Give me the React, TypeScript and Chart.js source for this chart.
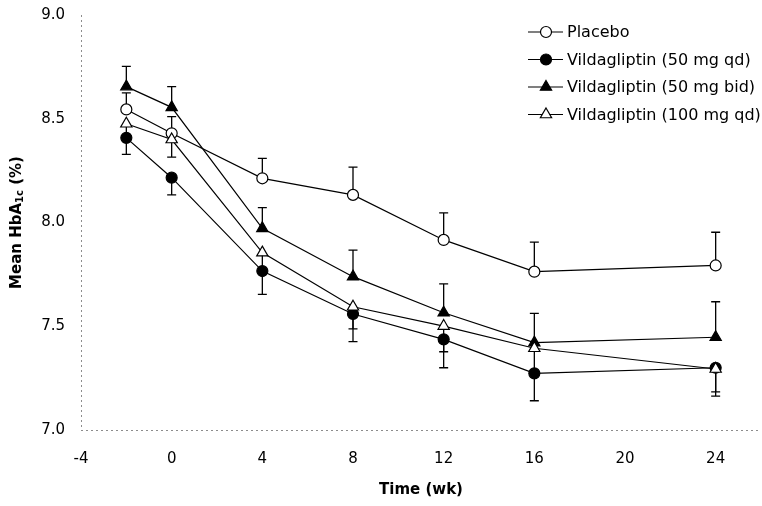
import React, { useEffect, useRef } from 'react';
import { Chart, registerables } from 'chart.js';

Chart.register(...registerables);

// ---- data ----
const weeks = [-2, 0, 4, 8, 12, 16, 24];
const xTickValues = [-4, 0, 4, 8, 12, 16, 20, 24];
const yTickValues = [7.0, 7.5, 8.0, 8.5, 9.0];

const seriesNames = [
  'Placebo',
  'Vildagliptin (50 mg qd)',
  'Vildagliptin (50 mg bid)',
  'Vildagliptin (100 mg qd)',
];

const placebo = [8.545, 8.43, 8.213, 8.133, 7.916, 7.763, 7.793];
const placeboErr = [0.08, 0.08, 0.096, 0.134, 0.13, 0.142, 0.16];

const vilda50qd = [8.408, 8.216, 7.766, 7.559, 7.437, 7.273, 7.3];
const vilda50qdErr = [0.08, 0.083, 0.112, 0.133, 0.137, 0.132, 0.137];

const vilda50bid = [8.655, 8.555, 7.972, 7.739, 7.565, 7.421, 7.447];
const vilda50bidErr = [0.097, 0.1, 0.1, 0.128, 0.139, 0.141, 0.171];

const vilda100qd = [8.476, 8.4, 7.855, 7.594, 7.501, 7.394, 7.294];
const vilda100qdErr = [0.08, 0.085, 0.1, 0.107, 0.124, 0.13, 0.11];

// error bar direction: +1 upward, -1 downward
const errDirections = [1, -1, 1, -1];

const seriesValues = [placebo, vilda50qd, vilda50bid, vilda100qd];
const seriesErrors = [placeboErr, vilda50qdErr, vilda50bidErr, vilda100qdErr];

// ---- styles ----
const FONT = "'DejaVu Sans', 'Liberation Sans', Arial, sans-serif";
const markerStyles = [
  { shape: 'circle', fill: '#ffffff', radius: 5.5 },
  { shape: 'circle', fill: '#000000', radius: 5.5 },
  { shape: 'triangle', fill: '#000000', radius: 6.5 },
  { shape: 'triangle', fill: '#ffffff', radius: 6.5 },
];
const drawOrder = [2, 4, 3, 1];

function drawMarker(ctx: CanvasRenderingContext2D, shape: string, fill: string, r: number, x: number, y: number) {
  ctx.save();
  ctx.beginPath();
  if (shape === 'circle') {
    ctx.arc(x, y, r, 0, Math.PI * 2);
  } else {
    let rad = 0;
    const third = (Math.PI * 2) / 3;
    ctx.moveTo(x + Math.sin(rad) * r, y - Math.cos(rad) * r);
    rad += third;
    ctx.lineTo(x + Math.sin(rad) * r, y - Math.cos(rad) * r);
    rad += third;
    ctx.lineTo(x + Math.sin(rad) * r, y - Math.cos(rad) * r);
    ctx.closePath();
  }
  ctx.fillStyle = fill;
  ctx.fill();
  ctx.lineWidth = 1.2;
  ctx.strokeStyle = '#000';
  ctx.stroke();
  ctx.restore();
}

const axesAndErrorBarPlugin = {
  id: 'errorBars',
  beforeDatasetsDraw(chart: any) {
    const ctx: CanvasRenderingContext2D = chart.ctx;
    const xs = chart.scales.x;
    const ys = chart.scales.y;
    const area = chart.chartArea;

    // faint dotted axis lines
    ctx.save();
    ctx.strokeStyle = '#8c8c8c';
    ctx.lineWidth = 1;
    ctx.setLineDash([2, 3]);
    ctx.beginPath();
    ctx.moveTo(area.left + 0.5, area.top);
    ctx.lineTo(area.left + 0.5, area.bottom);
    ctx.moveTo(area.left, area.bottom + 0.5);
    ctx.lineTo(area.right, area.bottom + 0.5);
    ctx.stroke();
    ctx.restore();

    ctx.save();
    ctx.strokeStyle = '#000';
    ctx.lineWidth = 1.3;
    seriesValues.forEach((vals, i) => {
      const errs = seriesErrors[i];
      const dir = errDirections[i];
      vals.forEach((v, j) => {
        const x = xs.getPixelForValue(weeks[j]);
        const y0 = ys.getPixelForValue(v);
        const y1 = ys.getPixelForValue(v + dir * errs[j]);
        ctx.beginPath();
        ctx.moveTo(x, y0);
        ctx.lineTo(x, y1);
        ctx.moveTo(x - 4.5, y1);
        ctx.lineTo(x + 4.5, y1);
        ctx.stroke();
      });
    });
    ctx.restore();
  },
};

const annotationPlugin = {
  id: 'customText',
  afterDraw(chart: any) {
    const ctx: CanvasRenderingContext2D = chart.ctx;
    const area = chart.chartArea;
    ctx.save();
    ctx.fillStyle = '#000';

    // x title
    ctx.font = `bold 15px ${FONT}`;
    ctx.textAlign = 'center';
    ctx.textBaseline = 'alphabetic';
    ctx.fillText('Time (wk)', (area.left + area.right) / 2, 494);

    // y title with subscript
    const parts = [
      { t: 'Mean HbA', size: 15, dy: 0 },
      { t: '1c', size: 10, dy: 2 },
      { t: ' (%)', size: 15, dy: 0 },
    ];
    let total = 0;
    parts.forEach((p) => {
      ctx.font = `bold ${p.size}px ${FONT}`;
      total += ctx.measureText(p.t).width;
    });
    ctx.translate(21, (area.top + area.bottom) / 2);
    ctx.rotate(-Math.PI / 2);
    ctx.textAlign = 'left';
    let pos = -total / 2;
    parts.forEach((p) => {
      ctx.font = `bold ${p.size}px ${FONT}`;
      ctx.fillText(p.t, pos, p.dy);
      pos += ctx.measureText(p.t).width;
    });
    ctx.restore();

    // legend
    ctx.save();
    const rowY = [32, 59.5, 87, 114.5];
    seriesNames.forEach((name, i) => {
      const y = rowY[i];
      ctx.strokeStyle = '#000';
      ctx.lineWidth = 1.2;
      ctx.beginPath();
      ctx.moveTo(528, y);
      ctx.lineTo(563, y);
      ctx.stroke();
      const m = markerStyles[i];
      drawMarker(ctx, m.shape, m.fill, m.radius, 546, y);
      ctx.fillStyle = '#000';
      ctx.font = `16px ${FONT}`;
      ctx.textAlign = 'left';
      ctx.textBaseline = 'middle';
      ctx.fillText(name, 567, y + 1);
    });
    ctx.restore();
  },
};

export default function App() {
  const canvasRef = useRef<HTMLCanvasElement | null>(null);

  useEffect(() => {
    if (!canvasRef.current) return;
    const datasets = seriesNames.map((name, i) => ({
      label: name,
      data: weeks.map((w, j) => ({ x: w, y: seriesValues[i][j] })),
      borderColor: '#000',
      borderWidth: 1.2,
      fill: false,
      tension: 0,
      pointStyle: markerStyles[i].shape,
      pointRadius: markerStyles[i].radius,
      pointBackgroundColor: markerStyles[i].fill,
      pointBorderColor: '#000',
      pointBorderWidth: 1.2,
      order: drawOrder[i],
    }));

    const chart = new Chart(canvasRef.current, {
      type: 'line',
      data: { datasets },
      options: {
        animation: false,
        responsive: false,
        maintainAspectRatio: false,
        layout: { autoPadding: false, padding: { top: 15, right: 1, left: 0, bottom: 0 } },
        plugins: {
          legend: { display: false },
          tooltip: { enabled: false },
          title: { display: false },
        },
        scales: {
          x: {
            type: 'linear',
            min: -4,
            max: 26,
            afterFit: (s: any) => {
              s.height = 76;
              s.paddingLeft = 0;
              s.paddingRight = 0;
            },
            afterBuildTicks: (s: any) => {
              s.ticks = xTickValues.map((v) => ({ value: v }));
            },
            ticks: {
              color: '#000',
              font: { family: FONT, size: 15 },
              padding: 20,
              maxRotation: 0,
              autoSkip: false,
              callback: (v: any) => String(v),
            },
            grid: { display: false, drawTicks: false },
            border: { display: false },
          },
          y: {
            type: 'linear',
            min: 7,
            max: 9,
            afterFit: (s: any) => {
              s.width = 81;
              s.paddingTop = 0;
              s.paddingBottom = 0;
            },
            afterBuildTicks: (s: any) => {
              s.ticks = yTickValues.map((v) => ({ value: v }));
            },
            ticks: {
              color: '#000',
              font: { family: FONT, size: 15 },
              padding: 16,
              callback: (v: any) => Number(v).toFixed(1),
            },
            grid: { display: false, drawTicks: false },
            border: { display: false },
          },
        },
      },
      plugins: [axesAndErrorBarPlugin, annotationPlugin],
    } as any);

    return () => chart.destroy();
  }, []);

  return (
    <div style={{ position: 'absolute', left: 0, top: 0, width: 762, height: 506, background: '#fff' }}>
      <canvas ref={canvasRef} width={762} height={506} style={{ display: 'block' }} />
    </div>
  );
}
